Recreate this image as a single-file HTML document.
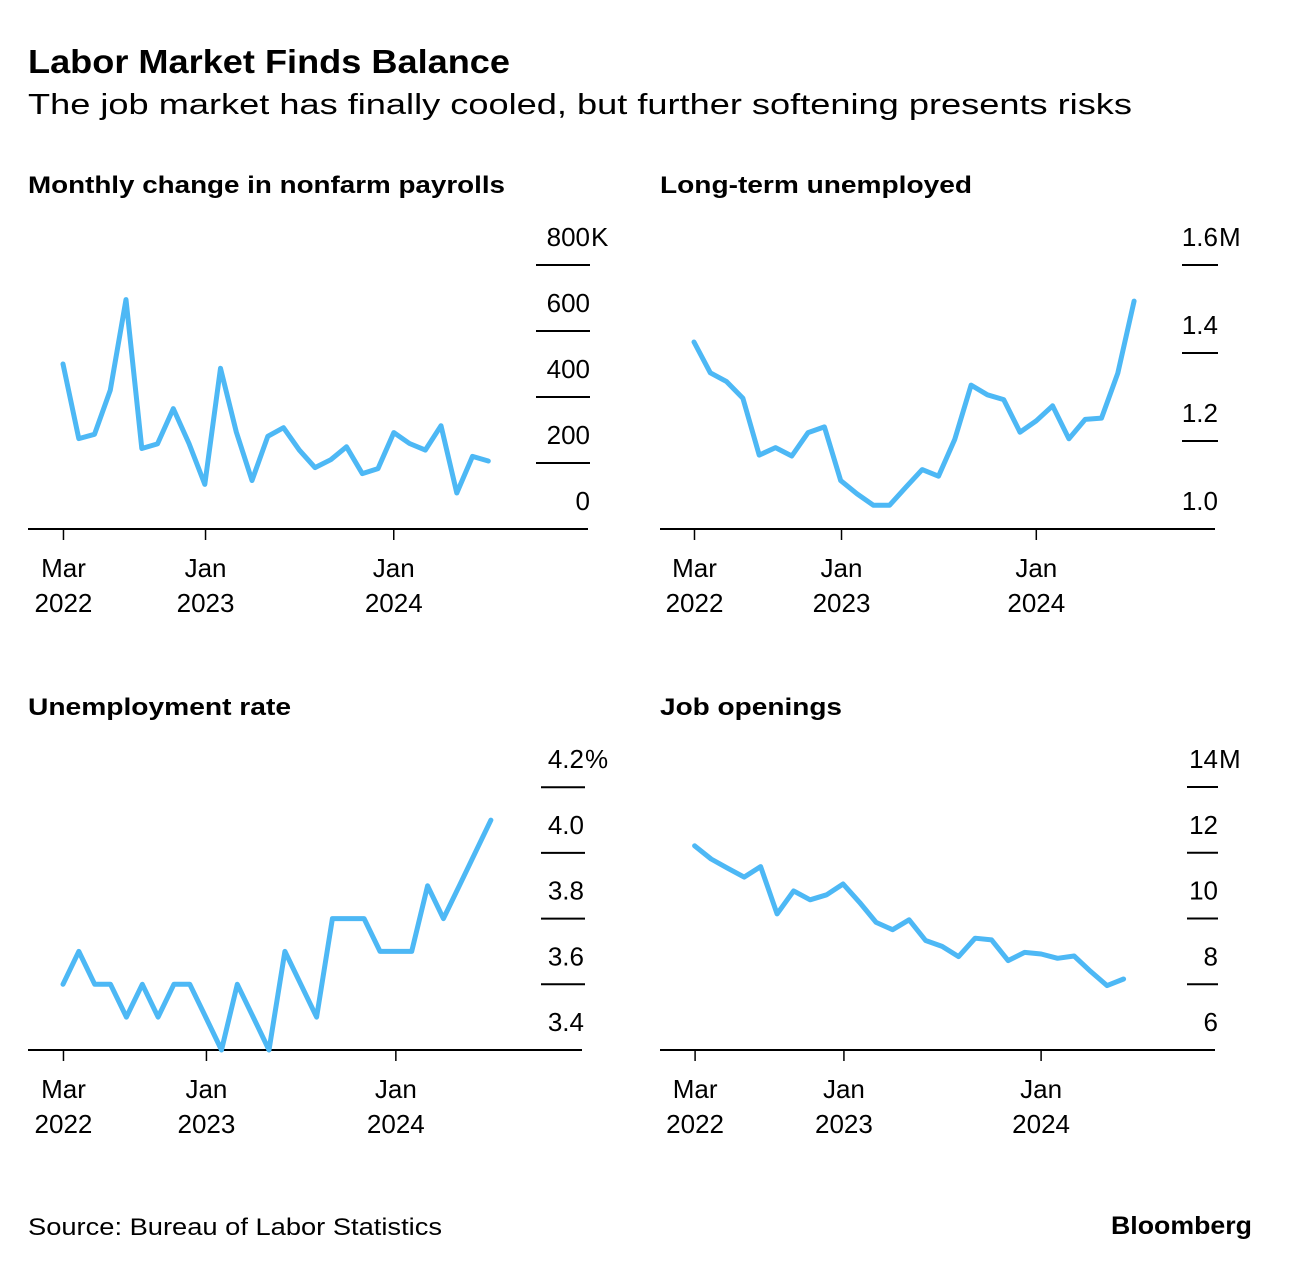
<!DOCTYPE html>
<html><head><meta charset="utf-8"><style>
html,body{margin:0;padding:0;background:#fff;}
svg{display:block;font-family:"Liberation Sans",Arial,sans-serif;}
</style></head><body>
<svg id="root" width="1291" height="1268" viewBox="0 0 1291 1268" xmlns="http://www.w3.org/2000/svg">
<text x="28" y="73" font-size="33" font-weight="bold" fill="#000" textLength="482" lengthAdjust="spacingAndGlyphs">Labor Market Finds Balance</text>
<text x="28" y="114" font-size="29" fill="#000" textLength="1104" lengthAdjust="spacingAndGlyphs">The job market has finally cooled, but further softening presents risks</text>
<text x="28" y="1235" font-size="24" fill="#000" textLength="414" lengthAdjust="spacingAndGlyphs">Source: Bureau of Labor Statistics</text>
<text x="1252" y="1234" font-size="25" font-weight="bold" fill="#000" text-anchor="end" textLength="141" lengthAdjust="spacingAndGlyphs">Bloomberg</text>
<g id="panels"></g>
</svg>
<script>
// Monthly change in nonfarm payrolls (thousands), Mar 2022 - Jun 2024
const payrollValues = [500,274,287,421,695,244,258,365,259,135,487,294,147,281,307,239,186,210,249,168,183,292,259,239,313,109,220,206];
const payrollTicks = [0,200,400,600,800];
// Long-term unemployed (millions)
const ltuValues = [1.425,1.355,1.335,1.297,1.168,1.185,1.166,1.219,1.232,1.110,1.080,1.054,1.054,1.095,1.135,1.120,1.204,1.327,1.305,1.294,1.220,1.246,1.280,1.205,1.249,1.252,1.354,1.518];
const ltuTicks = [1.0,1.2,1.4,1.6];
// Unemployment rate (%)
const urateValues = [3.6,3.7,3.6,3.6,3.5,3.6,3.5,3.6,3.6,3.5,3.4,3.6,3.5,3.4,3.7,3.6,3.5,3.8,3.8,3.8,3.7,3.7,3.7,3.9,3.8,3.9,4.0,4.1];
const urateTicks = [3.4,3.6,3.8,4.0,4.2];
// Job openings (millions), Mar 2022 - May 2024
const jobsValues = [12.21,11.81,11.53,11.26,11.58,10.14,10.84,10.57,10.72,11.05,10.49,9.88,9.66,9.96,9.33,9.15,8.84,9.40,9.35,8.72,8.97,8.92,8.79,8.86,8.39,7.96,8.16];
const jobsTicks = [6,8,10,12,14];
const xTickLabels = [["Mar","2022"],["Jan","2023"],["Jan","2024"]];
const xTickIndex = [0.03,9.05,21.0];

const NS="http://www.w3.org/2000/svg";
const root=document.getElementById('panels');
function mk(tag,attrs,parent){const e=document.createElementNS(NS,tag);for(const k in attrs)e.setAttribute(k,attrs[k]);(parent||root).appendChild(e);return e;}

const panels=[
 {name:'payrolls',title:'Monthly change in nonfarm payrolls',tw:477,ty:193,vals:payrollValues,ticks:payrollTicks,unit:'K',fmt:v=>String(v),
  base:529,pxPer:66/200,min:0,x0:63,dx:15.75,axL:28,axR:588,gL:536,gR:590,lblR:590},
 {name:'long-term-unemployed',title:'Long-term unemployed',tw:312,ty:193,vals:ltuValues,ticks:ltuTicks,unit:' M',fmt:v=>v.toFixed(1),
  base:529,pxPer:88/0.2,min:1.0,x0:694,dx:16.3,axL:660,axR:1215,gL:1182,gR:1218,lblR:1218},
 {name:'unemployment-rate',title:'Unemployment rate',tw:263,ty:715,vals:urateValues,ticks:urateTicks,unit:'%',fmt:v=>v.toFixed(1),
  base:1050,pxPer:65.7/0.2,min:3.4,x0:63,dx:15.85,axL:28,axR:582,gL:541,gR:585,lblR:584},
 {name:'job-openings',title:'Job openings',tw:182,ty:715,vals:jobsValues,ticks:jobsTicks,unit:'M',fmt:v=>String(v),
  base:1050,pxPer:65.75/2,min:6,x0:694.6,dx:16.5,axL:660,axR:1215,gL:1187,gR:1218,lblR:1218}
];

panels.forEach(p=>{
 const g=mk('g',{});
 
 
 const yS=v=>p.base-(v-p.min)*p.pxPer;
 const xS=i=>p.x0+i*p.dx;
 const t=mk('text',{x:p.axL,y:p.ty,'font-size':24,'font-weight':'bold',fill:'#000',textLength:p.tw,lengthAdjust:'spacingAndGlyphs'},g);
 t.textContent=p.title;
 
 
 p.ticks.forEach((v,k)=>{
  const y=yS(v);
  if(k>0){
   const gl=mk('line',{x1:p.gL,x2:p.gR,y1:y,y2:y,stroke:'#000','stroke-width':2},g);
   
   
  }
  const lb=mk('text',{x:p.lblR,y:y-19,'font-size':26,fill:'#000','text-anchor':'end'},g);
  lb.textContent=p.fmt(v);
  
  
  if(k===p.ticks.length-1){
   const u=mk('text',{x:p.lblR+1,y:y-19,'font-size':26,fill:'#000'},g);
   u.textContent=p.unit;
   
   
  }
 });
 const ax=mk('line',{x1:p.axL,x2:p.axR,y1:p.base,y2:p.base,stroke:'#000','stroke-width':2},g);
 
 
 xTickIndex.forEach((ti,k)=>{
  const x=xS(ti);
  const tk=mk('line',{x1:x,x2:x,y1:p.base,y2:p.base+11,stroke:'#000','stroke-width':1.5},g);
  
  
  const l1=mk('text',{x:x,y:p.base+48,'font-size':26,fill:'#000','text-anchor':'middle'},g);
  l1.textContent=xTickLabels[k][0];
  
  
  const l2=mk('text',{x:x,y:p.base+83,'font-size':26,fill:'#000','text-anchor':'middle'},g);
  l2.textContent=xTickLabels[k][1];
  
  
 });
 const d=p.vals.map((v,i)=>(i?'L':'M')+xS(i).toFixed(1)+' '+yS(v).toFixed(1)).join(' ');
 const path=mk('path',{d:d,fill:'none',stroke:'#4db8f5','stroke-width':5,'stroke-linejoin':'round','stroke-linecap':'round'},g);
 
 
});
</script>
</body></html>
